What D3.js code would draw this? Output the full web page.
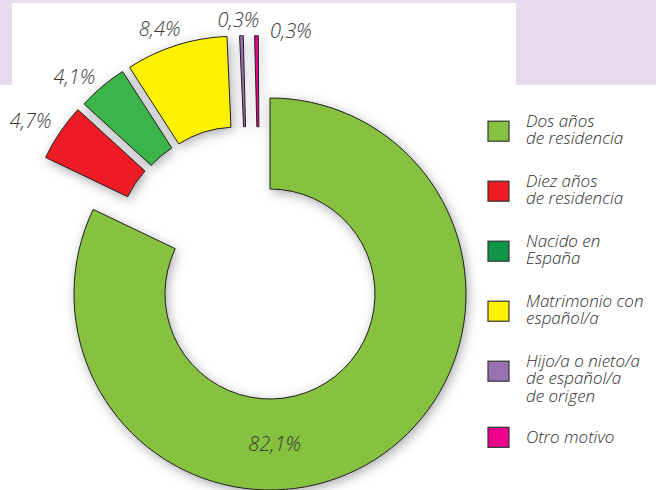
<!DOCTYPE html>
<html>
<head>
<meta charset="utf-8">
<script src="https://cdn.jsdelivr.net/npm/d3@7"></script>
<style>
  html, body { margin: 0; padding: 0; background: #ffffff; }
  svg { display: block; }
  text { font-family: "Open Sans", "Noto Sans", sans-serif; font-style: italic; }
</style>
</head>
<body>
<svg id="chart" width="656" height="490"></svg>
<script>
// ---------- data ----------
const categories = [
  "Dos años de residencia",
  "Diez años de residencia",
  "Nacido en España",
  "Matrimonio con español/a",
  "Hijo/a o nieto/a de español/a de origen",
  "Otro motivo"
];
const legendLines = [
  ["Dos años", "de residencia"],
  ["Diez años", "de residencia"],
  ["Nacido en", "España"],
  ["Matrimonio con", "español/a"],
  ["Hijo/a o nieto/a", "de español/a", "de origen"],
  ["Otro motivo"]
];
const values = [82.1, 4.7, 4.1, 8.4, 0.3, 0.3];

// ---------- styles / layout ----------
const sliceColors  = ["#86c140", "#ed1c24", "#3bb44a", "#fff200", "#9b6eb0", "#ec008c"];
const legendColors = ["#86c140", "#ed1c24", "#109447", "#fff200", "#9872b0", "#ec008c"];
// translation of each (exploded) slice
const explodeOffsets = [[0, 0], [-47.6, -52], [-41.4, -57.7], [-34.4, -61.8], [-21.8, -62.4], [-10.5, -62.3]];
// label adjustments relative to the point at labelRadius on the mid-angle
const labelNudges = [[-111.7, -34.9], [-11, 0.5], [-13.6, 6.9], [-10, 4.1], [-2.2, 5.8], [34.9, 16.8]];

const W = 656, H = 490;
const cx = 270, cy = 294, outerR = 196, innerR = 105, labelR = 218;

const svg = d3.select("#chart");

// background
svg.append("rect").attr("x", 0).attr("y", 0).attr("width", W).attr("height", H).attr("fill", "#ffffff");
svg.append("rect").attr("x", 0).attr("y", 0).attr("width", W).attr("height", 85).attr("fill", "#e5dbec");
svg.append("rect").attr("x", 12).attr("y", 3).attr("width", 504).attr("height", 83).attr("fill", "#ffffff");

// shadow filter
const defs = svg.append("defs");
const f = defs.append("filter").attr("id", "shadow")
  .attr("x", "-30%").attr("y", "-30%").attr("width", "160%").attr("height", "160%");
f.append("feGaussianBlur").attr("in", "SourceAlpha").attr("stdDeviation", 6).attr("result", "b");
f.append("feOffset").attr("in", "b").attr("dx", 2).attr("dy", 3).attr("result", "o");
f.append("feFlood").attr("flood-color", "#5e6068").attr("flood-opacity", 0.55).attr("result", "c");
f.append("feComposite").attr("in", "c").attr("in2", "o").attr("operator", "in");

const pie = d3.pie().sort(null).value(d => d)
  .startAngle(0).endAngle(2 * Math.PI * d3.sum(values) / 100);
const arcs = pie(values);
const arc = d3.arc().innerRadius(innerR).outerRadius(outerR);

const g = svg.append("g").attr("transform", `translate(${cx},${cy})`);

// shadows first
g.append("g").attr("filter", "url(#shadow)")
  .selectAll("path").data(arcs).join("path")
  .attr("d", arc)
  .attr("transform", (d, i) => `translate(${explodeOffsets[i][0]},${explodeOffsets[i][1]})`)
  .attr("fill", "#000");

// slices
g.append("g").selectAll("path").data(arcs).join("path")
  .attr("d", arc)
  .attr("transform", (d, i) => `translate(${explodeOffsets[i][0]},${explodeOffsets[i][1]})`)
  .attr("fill", (d, i) => sliceColors[i])
  .attr("stroke", "#231f20")
  .attr("stroke-width", 1)
  .attr("stroke-linejoin", "miter");

// value labels
const locale = d3.formatLocale({ decimal: ",", thousands: ".", grouping: [3], currency: ["", "€"] });
const fmt = locale.format(".1f");
const labelArc = d3.arc().innerRadius(labelR).outerRadius(labelR);
g.append("g").selectAll("text").data(arcs).join("text")
  .attr("transform", (d, i) => {
    const c = labelArc.centroid(d);
    return `translate(${c[0] + explodeOffsets[i][0] + labelNudges[i][0]},${c[1] + explodeOffsets[i][1] + labelNudges[i][1]})`;
  })
  .attr("text-anchor", "middle")
  .attr("dy", "0.35em")
  .attr("font-size", "20px")
  .attr("font-weight", 350)
  .attr("fill", "#3a3a3a")
  .text(d => fmt(d.data) + "%");

// legend
const legX = 488, textX = 526, lineH = 17.6, fs = 17;
let baseline = 126.7;
const legend = svg.append("g");
legendLines.forEach((lines, i) => {
  if (i > 0) baseline += 60 + Math.max(0, legendLines[i - 1].length - 2) * 16.6;
  const sqCy = baseline + (Math.min(lines.length, 2) - 1) * 10.5 - 6;
  legend.append("rect")
    .attr("x", legX).attr("y", sqCy - 10).attr("width", 21).attr("height", 20)
    .attr("fill", legendColors[i]).attr("stroke", "#333333").attr("stroke-width", 1.2);
  const t = legend.append("text")
    .attr("x", textX).attr("y", baseline)
    .attr("font-size", fs + "px").attr("font-weight", 350).attr("fill", "#2e2e2e");
  lines.forEach((ln, k) => {
    t.append("tspan").attr("x", textX).attr("y", baseline + k * lineH).text(ln);
  });
});
</script>
</body>
</html>
